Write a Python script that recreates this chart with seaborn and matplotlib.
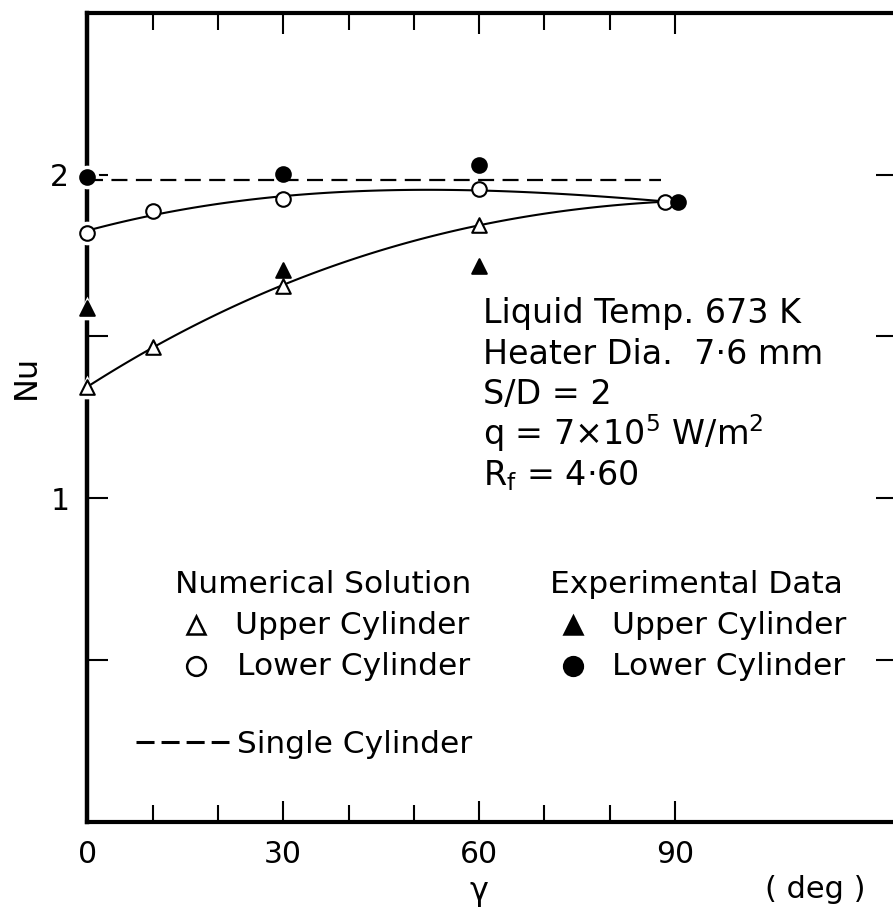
import numpy as np
import matplotlib
matplotlib.use("Agg")
import matplotlib.pyplot as plt
import seaborn as sns

# Nusselt number against inclination angle gamma (deg)
gamma_num = [0, 10, 30, 60, 88.5]
nu_num_upper = [1.343, 1.468, 1.657, 1.844, 1.916]
nu_num_lower = [1.820, 1.888, 1.923, 1.955, 1.916]
n_upper_marks = 4  # the last upper point coincides with the lower one

gamma_exp_upper = [0, 30, 60]
nu_exp_upper = [1.588, 1.706, 1.716]
gamma_exp_lower = [0, 30, 60, 90.4]
nu_exp_lower = [1.993, 2.001, 2.029, 1.916]

gamma_single = [0, 87.8]
nu_single = [1.983, 1.983]

x_major = [0, 30, 60, 90]
x_minor = [10, 20, 40, 50, 70, 80]
y_major = [0.5, 1.0, 1.5, 2.0]
y_labels = ["", "1", "", "2"]

info_lines = [
    "Liquid Temp. 673 K",
    "Heater Dia.  7·6 mm",
    "S/D = 2",
    "q = 7×10$^{5}$ W/m$^{2}$",
    "R$_{\\mathrm{f}}$ = 4·60",
]

sns.set_style("ticks")
plt.rcParams["font.family"] = ["DejaVu Sans"]
plt.rcParams["mathtext.fontset"] = "dejavusans"
for key in ("text.color", "axes.labelcolor", "xtick.color", "ytick.color",
            "axes.edgecolor"):
    plt.rcParams[key] = "black"

W, H = 893, 913
fig = plt.figure(figsize=(W / 100, H / 100), dpi=100)
ax = fig.add_axes([0.0978, 0.0997, 0.9067, 0.8864])


def fx(x):
    return x / W


def fy(y):
    return 1 - y / H


# smooth cubic curves of the numerical solution
for yy in (nu_num_upper, nu_num_lower):
    sns.regplot(x=np.asarray(gamma_num, float), y=np.asarray(yy, float),
                order=3, ci=None, scatter=False, truncate=True, ax=ax,
                line_kws=dict(color="black", linewidth=1.5, zorder=4))

# single cylinder reference
sns.lineplot(x=gamma_single, y=nu_single, sort=False, estimator=None,
             color="black", linewidth=1.6, linestyle=(0, (7.2, 3.8)),
             ax=ax, zorder=4)

mark_s = 110
halo_s = 290
sets = [
    (gamma_num[:n_upper_marks], nu_num_upper[:n_upper_marks], "^", "white"),
    (gamma_num, nu_num_lower, "o", "white"),
    (gamma_exp_upper, nu_exp_upper, "^", "black"),
    (gamma_exp_lower, nu_exp_lower, "o", "black"),
]
# white halos keep the markers clear of the frame
for gx, ny, mk, fc in sets:
    sns.scatterplot(x=gx, y=ny, marker=mk, s=halo_s, color="white",
                    edgecolor="white", linewidth=0, clip_on=False,
                    zorder=3, ax=ax, legend=False)
for gx, ny, mk, fc in sets:
    sns.scatterplot(x=gx, y=ny, marker=mk, s=mark_s, color=fc,
                    edgecolor="black", linewidth=1.5, clip_on=False,
                    zorder=5, ax=ax, legend=False)

ax.set_xlim(0, 124)
ax.set_ylim(0, 2.5)

# frame and ticks
for side in ("left", "right", "top", "bottom"):
    ax.spines[side].set_visible(True)
    ax.spines[side].set_linewidth(3.0)
    ax.spines[side].set_color("black")
ax.spines["left"].set_linewidth(3.2)

ax.set_xticks(x_major)
ax.set_xticks(x_minor, minor=True)
ax.set_xticklabels([str(v) for v in x_major])
ax.set_yticks(y_major)
ax.set_yticklabels(y_labels)
ax.tick_params(which="major", direction="in", length=15, width=1.5,
               top=True, right=True, labelsize=21.5, pad=13, colors="black")
ax.tick_params(axis="x", which="minor", direction="in", length=12,
               width=1.5, top=True, bottom=True)
ax.tick_params(axis="y", which="minor", left=False, right=False)
ax.set_xlabel("")
ax.set_ylabel("")

fig.text(fx(26), fy(377), "Nu", rotation=90, ha="center", va="center",
         fontsize=23)
fig.text(fx(479), fy(891), "γ", ha="center", va="center", fontsize=23)
fig.text(fx(765), fy(898), "( deg )", ha="left", va="baseline", fontsize=22)

# conditions block
for i, line in enumerate(info_lines):
    fig.text(fx(483), fy(323 + 40.5 * i), line, ha="left", va="baseline",
             fontsize=24)

# key
fs_key = 22.5
fig.text(fx(175), fy(593), "Numerical Solution", fontsize=fs_key, va="baseline")
fig.text(fx(550), fy(593), "Experimental Data", fontsize=fs_key, va="baseline")
fig.text(fx(235), fy(634), "Upper Cylinder", fontsize=fs_key, va="baseline")
fig.text(fx(237), fy(675), "Lower Cylinder", fontsize=fs_key, va="baseline")
fig.text(fx(612), fy(634), "Upper Cylinder", fontsize=fs_key, va="baseline")
fig.text(fx(612), fy(675), "Lower Cylinder", fontsize=fs_key, va="baseline")
fig.text(fx(237), fy(753), "Single Cylinder", fontsize=fs_key, va="baseline")

key_marks = [
    (196, 625, "^", "white"),
    (196, 666, "o", "white"),
    (573, 625, "^", "black"),
    (573, 666, "o", "black"),
]
for px, py, mk, fc in key_marks:
    ax.plot([fx(px)], [fy(py)], marker=mk, markersize=13.5, color="black",
            markerfacecolor=fc, markeredgewidth=1.8, linestyle="none",
            transform=fig.transFigure, clip_on=False)
ax.plot([fx(136), fx(229)], [fy(742), fy(742)], color="black", linewidth=2.2,
        linestyle=(0, (5.9, 2.3)), transform=fig.transFigure, clip_on=False)

fig.savefig("out.png", dpi=100, facecolor="white")
